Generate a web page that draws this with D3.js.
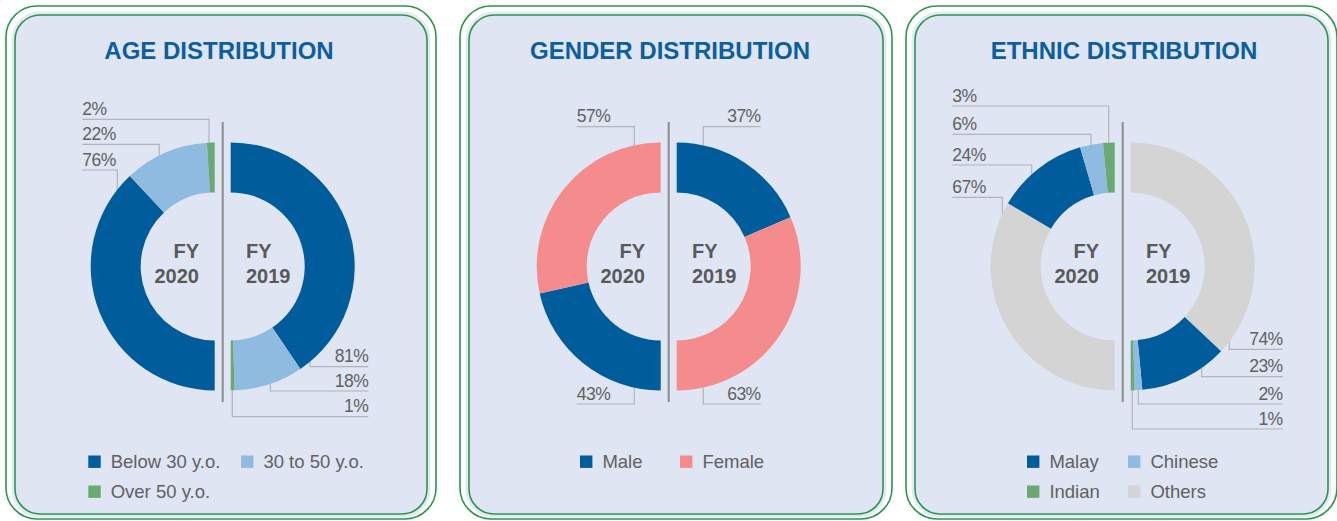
<!DOCTYPE html>
<html>
<head>
<meta charset="utf-8">
<script src="https://cdn.jsdelivr.net/npm/d3@7"></script>
<style>
  html, body { margin: 0; padding: 0; background: #ffffff; }
  svg { display: block; font-family: "Liberation Sans", Arial, Helvetica, sans-serif; }
</style>
</head>
<body>
<svg id="chart" width="1337" height="521"></svg>
<script>
// ---- Data ----
const years = ["FY\n2020", "FY\n2019"];

const ageCategories = ["Below 30 y.o.", "30 to 50 y.o.", "Over 50 y.o."];
const age2020 = [76, 22, 2];
const age2019 = [81, 18, 1];

const genderCategories = ["Male", "Female"];
const gender2020 = [43, 57];
const gender2019 = [37, 63];

const ethnicCategories = ["Malay", "Chinese", "Indian", "Others"];
const ethnic2020 = [24, 6, 3, 67];
const ethnic2019 = [23, 2, 1, 74];

// ---- Styling ----
const C = {
  dark: "#015c9c",
  light: "#8fbbe0",
  green: "#6aa972",
  pink: "#f48c8d",
  grey: "#d4d4d4",
  panel: "#dfe5f3",
  border: "#2b974c",
  title: "#0c5e9f",
  text: "#616161",
  leader: "#b2b4ba",
  divider: "#8c8c8c"
};

// Panel layout: frame, divider position, slice draw order, label placement.
const panels = [
  {
    title: "AGE DISTRIBUTION", titleX: 219,
    categories: ageCategories, v2020: age2020, v2019: age2019,
    colors: [C.dark, C.light, C.green],
    order: [0, 1, 2],
    x0: 15, x1: 427, mid: 222.7,
    leftText: -140.4, rightText: 145.6,
    left: [ {i: 2, y: 119.3, dx: -5.7}, {i: 1, y: 144.3, dx: -55.4}, {i: 0, y: 170, dx: -97.4} ],
    right: [ {i: 0, y: 366.7, dx: 79.3}, {i: 1, y: 391, dx: 39.6}, {i: 2, y: 416.7, dx: 1.6} ],
    legend: { x: [88.3, 241], cols: 2 }
  },
  {
    title: "GENDER DISTRIBUTION", titleX: 670,
    categories: genderCategories, v2020: gender2020, v2019: gender2019,
    colors: [C.dark, C.pink],
    order: [0, 1],
    x0: 469, x1: 883, mid: 668.7,
    leftText: -92, rightText: 92,
    left: [ {i: 1, y: 126.7, dx: -26.4}, {i: 0, y: 404, dx: -26.4} ],
    right: [ {i: 0, y: 126.7, dx: 26.6}, {i: 1, y: 404, dx: 26.6} ],
    legend: { x: [580, 680], cols: 2 }
  },
  {
    title: "ETHNIC DISTRIBUTION", titleX: 1124,
    categories: ethnicCategories, v2020: ethnic2020, v2019: ethnic2019,
    colors: [C.dark, C.light, C.green, C.grey],
    order: [3, 0, 1, 2],
    x0: 915, x1: 1328, mid: 1122.7,
    leftText: -170.4, rightText: 160,
    left: [ {i: 2, y: 106, dx: -6}, {i: 1, y: 134.3, dx: -23.7}, {i: 0, y: 165, dx: -83}, {i: 3, y: 197.3, dx: -112.4} ],
    right: [ {i: 3, y: 349.3, dx: 98.6}, {i: 0, y: 376.7, dx: 71}, {i: 1, y: 404, dx: 7.6}, {i: 2, y: 429, dx: 1.6} ],
    legend: { x: [1027, 1128], cols: 2 }
  }
];

const svg = d3.select("#chart");
const frameTop = 15, frameBottom = 514;
const cy = 266.4, rOuter = 124, rInner = 74, gap = 8;

const arc = d3.arc().innerRadius(rInner).outerRadius(rOuter);

panels.forEach(p => {
  const g = svg.append("g");

  // Double rounded frame
  g.append("rect")
    .attr("x", p.x0 - 9).attr("y", frameTop - 9)
    .attr("width", p.x1 - p.x0 + 18).attr("height", frameBottom - frameTop + 14)
    .attr("rx", 31).attr("fill", "#ffffff")
    .attr("stroke", C.border).attr("stroke-width", 1.6);
  g.append("rect")
    .attr("x", p.x0).attr("y", frameTop)
    .attr("width", p.x1 - p.x0).attr("height", frameBottom - frameTop)
    .attr("rx", 25).attr("fill", C.panel)
    .attr("stroke", "#e4e9f5").attr("stroke-width", 7);
  g.append("rect")
    .attr("x", p.x0).attr("y", frameTop)
    .attr("width", p.x1 - p.x0).attr("height", frameBottom - frameTop)
    .attr("rx", 25).attr("fill", C.panel)
    .attr("stroke", C.border).attr("stroke-width", 1.6);

  // Title
  g.append("text")
    .attr("x", p.titleX).attr("y", 58.5)
    .attr("text-anchor", "middle")
    .attr("fill", C.title)
    .attr("font-size", 24).attr("font-weight", "bold")
    .text(p.title);

  const halves = [
    { values: p.v2020, cx: p.mid - gap, start: Math.PI, end: 2 * Math.PI, labels: p.left, textX: p.mid + p.leftText, anchor: "start", year: years[0], yearX: p.mid - gap - 15.7, yearAnchor: "end" },
    { values: p.v2019, cx: p.mid + gap, start: 0, end: Math.PI, labels: p.right, textX: p.mid + p.rightText, anchor: "end", year: years[1], yearX: p.mid + gap + 15.3, yearAnchor: "start" }
  ];

  halves.forEach(h => {
    const pie = d3.pie().sort(null).value(d => d.value).startAngle(h.start).endAngle(h.end);
    const items = p.order.map(i => ({ i, value: h.values[i] }));
    const slices = pie(items);

    // Leader lines and value labels
    const lg = g.append("g");
    h.labels.forEach(l => {
      const value = h.values[l.i];
      const ax = h.cx + l.dx;
      const dy = Math.sqrt(rOuter * rOuter - l.dx * l.dx);
      const ay = l.y < cy ? cy - dy : cy + dy;
      lg.append("path")
        .attr("d", `M${h.textX},${l.y}H${ax}V${ay}`)
        .attr("fill", "none").attr("stroke", C.leader).attr("stroke-width", 1.2);
      lg.append("text")
        .attr("x", h.textX).attr("y", l.y - 4.5)
        .attr("text-anchor", h.anchor)
        .attr("fill", C.text).attr("font-size", 17.5)
        .attr("letter-spacing", -0.5)
        .text(value + "%");
    });

    g.append("g").attr("transform", `translate(${h.cx},${cy})`)
      .selectAll("path").data(slices).join("path")
      .attr("d", arc)
      .attr("fill", d => p.colors[d.data.i]);

    const lines = h.year.split("\n");
    const t = g.append("text")
      .attr("text-anchor", h.yearAnchor)
      .attr("fill", "#595959").attr("font-size", 20).attr("font-weight", "bold");
    lines.forEach((s, k) => {
      t.append("tspan").attr("x", h.yearX).attr("y", 258 + k * 24.5).text(s);
    });
  });

  // Divider
  g.append("line")
    .attr("x1", p.mid).attr("x2", p.mid)
    .attr("y1", 122).attr("y2", 402)
    .attr("stroke", C.divider).attr("stroke-width", 2);

  // Legend
  const leg = g.append("g");
  p.categories.forEach((c, k) => {
    const col = k % p.legend.cols, row = Math.floor(k / p.legend.cols);
    const x = p.legend.x[col], yc = 461.7 + row * 30;
    leg.append("rect")
      .attr("x", x).attr("y", yc - 6.2)
      .attr("width", 12.4).attr("height", 12.4)
      .attr("fill", p.colors[k]);
    leg.append("text")
      .attr("x", x + 22.4).attr("y", yc + 6)
      .attr("fill", C.text).attr("font-size", 18.5)
      .text(c);
  });
});
</script>
</body>
</html>
